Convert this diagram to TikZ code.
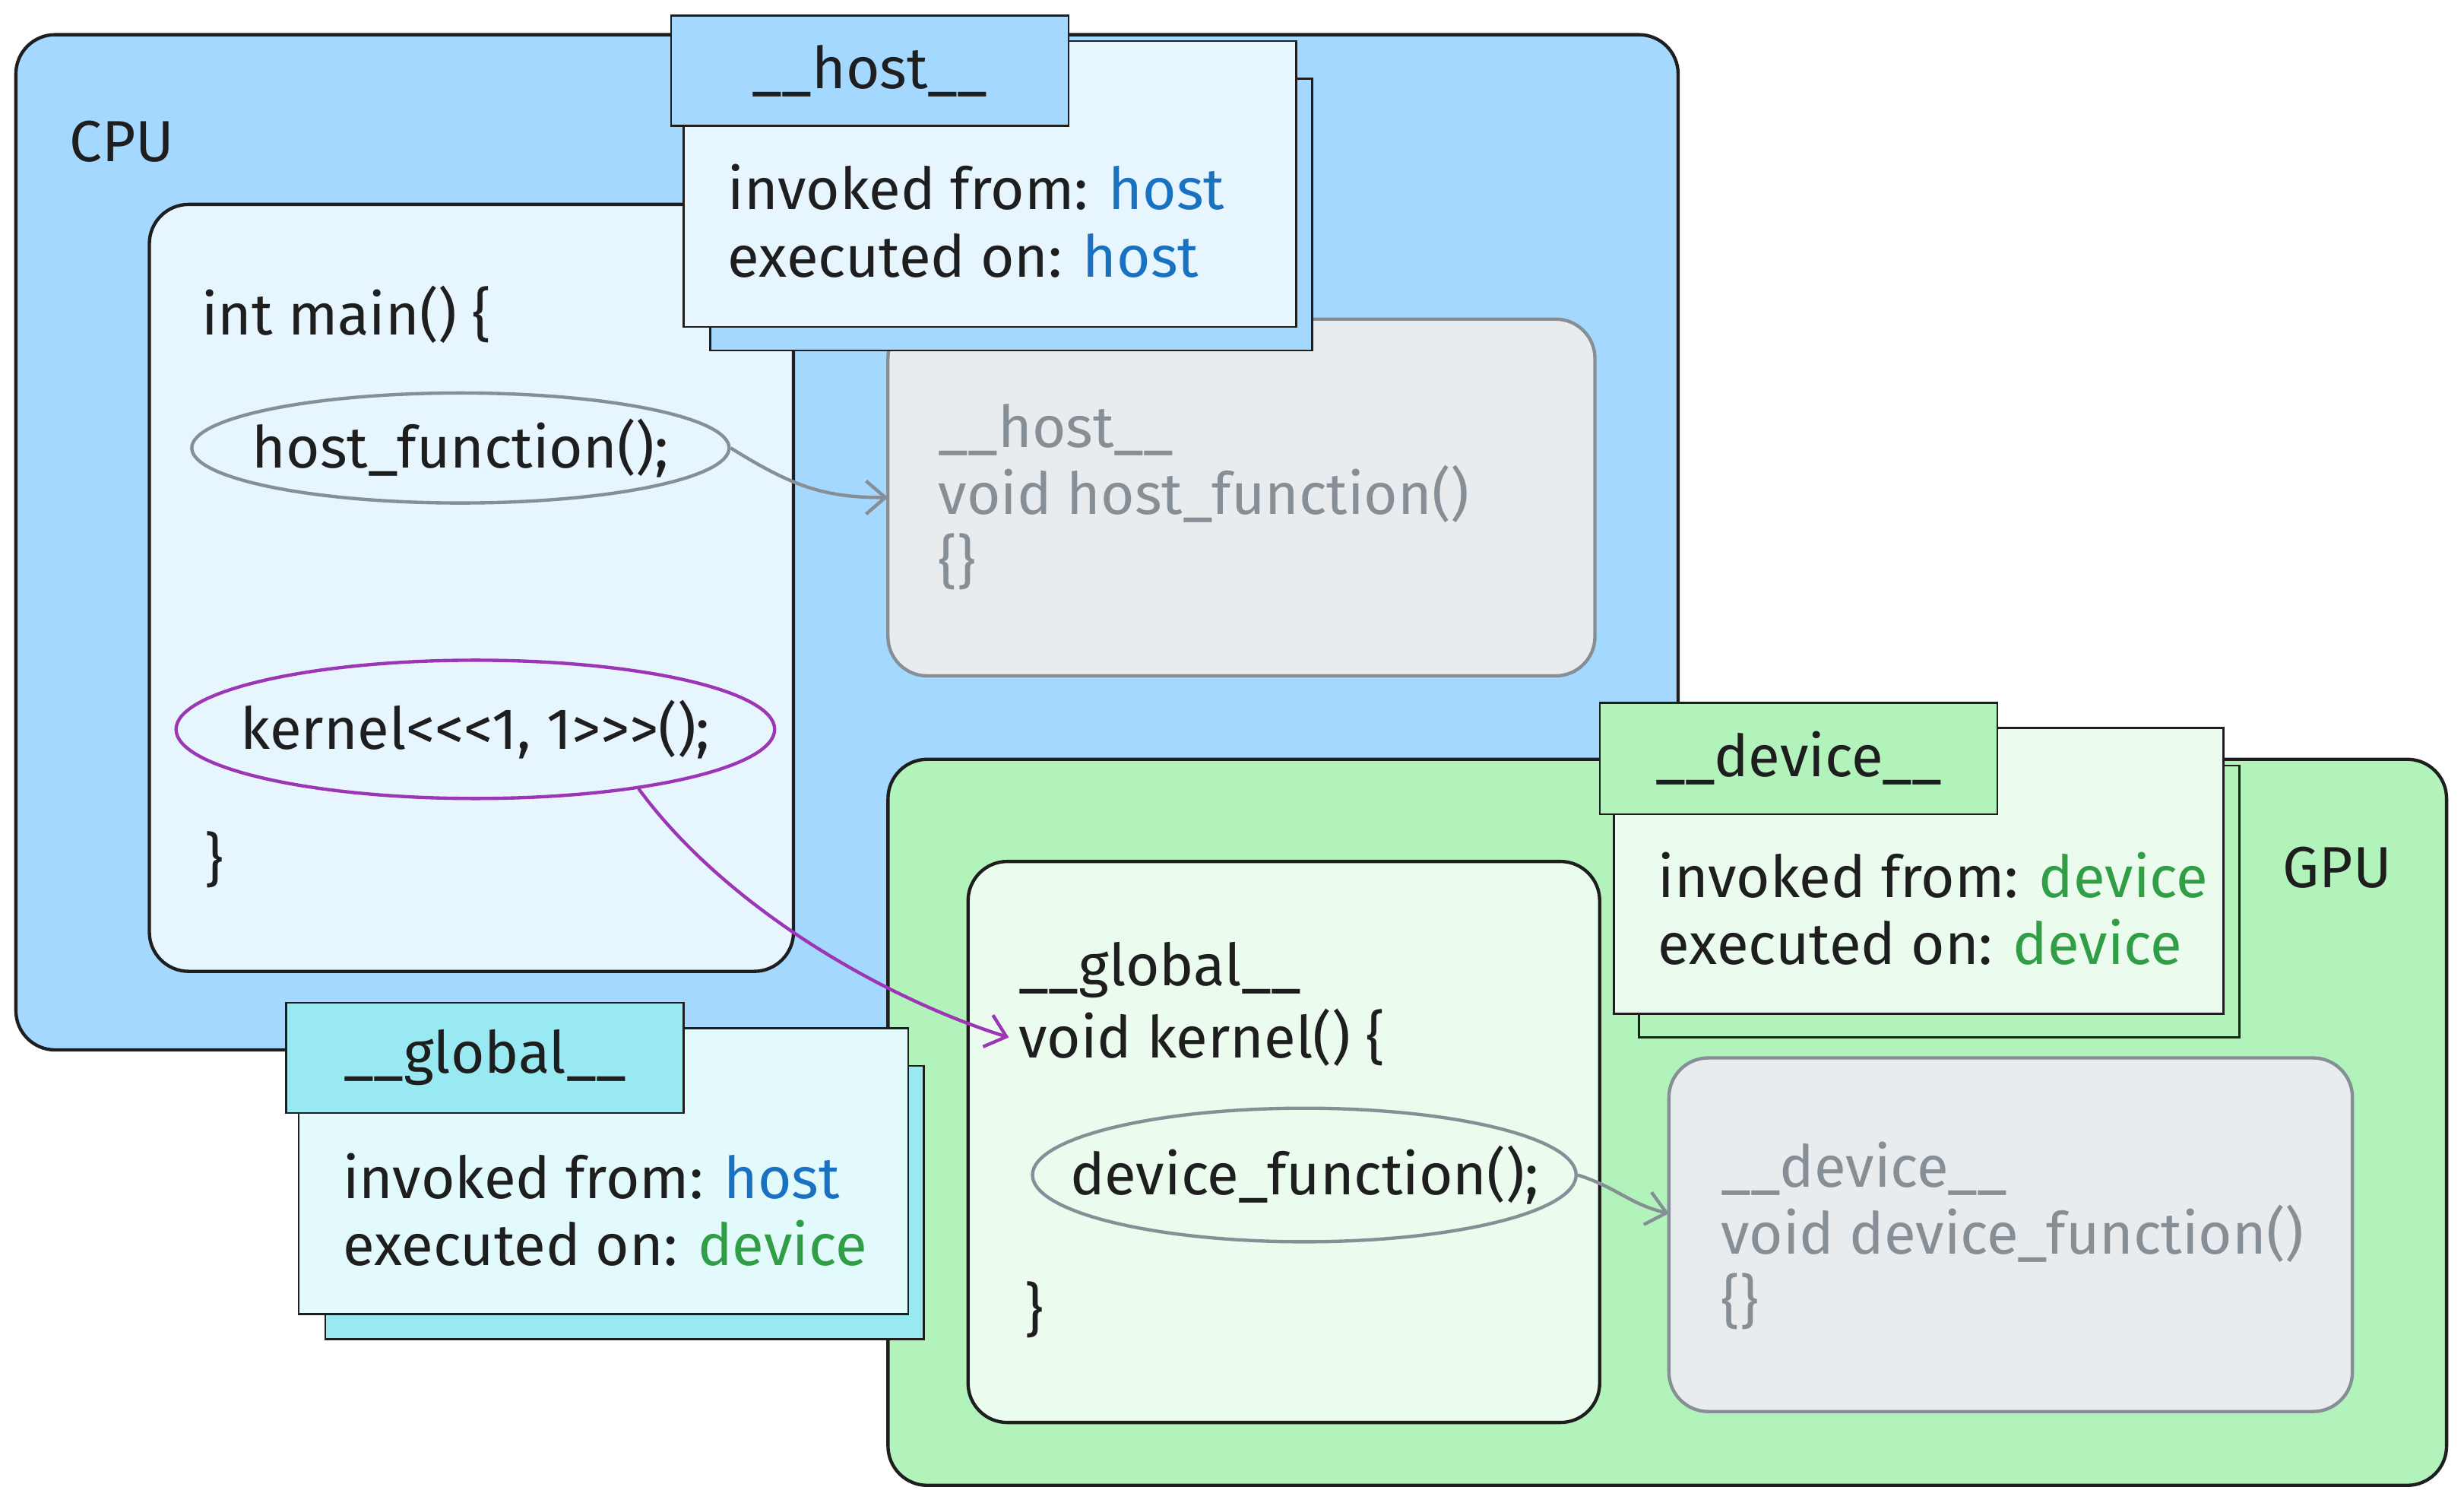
\documentclass[tikz,border=0pt]{standalone}
\usepackage{fontspec}
\setmainfont{Fira Sans}[Ligatures=TeXOff]
\usepackage{xcolor}
\usetikzlibrary{arrows.meta,shapes.geometric}
\definecolor{ink}{HTML}{1E1E1E}
\definecolor{cpublue}{HTML}{A5D8FF}
\definecolor{cpulight}{HTML}{E7F5FF}
\definecolor{gpugreen}{HTML}{B2F2BB}
\definecolor{gpulight}{HTML}{EBFBEE}
\definecolor{globcyan}{HTML}{99E9F2}
\definecolor{globlight}{HTML}{E3FAFC}
\definecolor{codegray}{HTML}{868E96}
\definecolor{codefill}{HTML}{E9ECEF}
\definecolor{hostblue}{HTML}{1971C2}
\definecolor{devgreen}{HTML}{2F9E44}
\definecolor{kernpurple}{HTML}{9C36B5}

\begin{document}
\begin{tikzpicture}[
      x=0.02cm, y=-0.02cm, text=ink,
      font=\fontsize{21}{24.4}\selectfont,
      area/.style={rectangle, draw=ink, line width=1.2pt, rounded corners=0.5cm, inner sep=0pt, outer sep=0pt},
      codebox/.style={area, draw=codegray, fill=codefill},
      card/.style={rectangle, draw=ink, line width=0.7pt, inner sep=0pt, outer sep=0pt},
      call/.style={ellipse, draw, line width=1.2pt, inner sep=0pt},
      code/.style={anchor=west, align=left},
      link/.style={line width=1.2pt, -{Straight Barb[length=7pt,width=12pt]}}]
  \useasboundingbox (0,0) rectangle (1568,956);

  % Areas
  \node[area, fill=cpublue, minimum width=21.16cm, minimum height=12.92cm] (cpu) at (539,345) {};
  \node[anchor=west] (cpulabel) at (38,90) {CPU};
  \node[area, fill=cpulight, minimum width=8.2cm, minimum height=9.76cm] (mainfn) at (300,374) {};
  \node[codebox, minimum width=9cm, minimum height=4.54cm] (hostdef) at (790,316.5) {};
  \node[area, fill=gpugreen, minimum width=19.84cm, minimum height=9.24cm] (gpu) at (1061,714) {};
  \node[anchor=east] (gpulabel) at (1528,552) {GPU};
  \node[area, fill=gpulight, minimum width=8.04cm, minimum height=7.14cm] (kernfn) at (817,726.5) {};
  \node[codebox, minimum width=8.7cm, minimum height=4.5cm] (devdef) at (1279.5,785.5) {};

  % Code
  \node[code] (mainsig) at (122,200) {int main() \{};
  \node[call, draw=codegray, minimum width=6.84cm, minimum height=1.4cm,
        label=center:{host\_function();}] (hostcall) at (293,285) {};
  \node[call, draw=kernpurple, minimum width=7.62cm, minimum height=1.76cm,
        label=center:{kernel<<<1, 1>>>();}] (kerncall) at (302.5,464) {};
  \node[code] (mainend) at (124,547) {\}};
  \node[code, text=codegray] (hostbody) at (591,316) {\_\_host\_\_\\void host\_function()\\\{\}};
  \node[code] (kernqual) at (642,617) {\_\_global\_\_};
  \node[code] (kernsig) at (642,660) {void kernel() \{};
  \node[call, draw=codegray, minimum width=6.92cm, minimum height=1.7cm,
        label=center:{device\_function();}] (devcall) at (830,747.5) {};
  \node[code] (kernend) at (646,833) {\}};
  \node[code, text=codegray] (devbody) at (1089,786) {\_\_device\_\_\\void device\_function()\\\{\}};

  % Cards
  \node[card, fill=cpublue, minimum width=7.66cm, minimum height=3.46cm] (hostshadow) at (643.5,136.5) {};
  \node[card, fill=cpulight, minimum width=7.8cm, minimum height=3.64cm] (hostcard) at (630,117) {};
  \node[card, fill=cpublue, minimum width=5.06cm, minimum height=1.4cm] (hosthead) at (553.5,45) {\_\_host\_\_};
  \node[code] (hostinfo) at (457,140.5) {invoked from: \textcolor{hostblue}{host}\\executed on: \textcolor{hostblue}{host}};

  \node[card, fill=gpugreen, minimum width=7.64cm, minimum height=3.46cm] (devshadow) at (1234,573.5) {};
  \node[card, fill=gpulight, minimum width=7.76cm, minimum height=3.64cm] (devcard) at (1221,554) {};
  \node[card, fill=gpugreen, minimum width=5.06cm, minimum height=1.42cm] (devhead) at (1144.5,482.5) {\_\_device\_\_};
  \node[code] (devinfo) at (1049,578) {invoked from: \textcolor{devgreen}{device}\\executed on: \textcolor{devgreen}{device}};

  \node[card, fill=globcyan, minimum width=7.62cm, minimum height=3.48cm] (globshadow) at (397.5,765) {};
  \node[card, fill=globlight, minimum width=7.76cm, minimum height=3.64cm] (globcard) at (384,745) {};
  \node[card, fill=globcyan, minimum width=5.06cm, minimum height=1.4cm] (globhead) at (308.5,673) {\_\_global\_\_};
  \node[code] (globinfo) at (212,769.5) {invoked from: \textcolor{hostblue}{host}\\executed on: \textcolor{devgreen}{device}};

  % Calls
  \draw[link, draw=codegray] (hostcall.east) .. controls +(40,25) and +(-40,0) .. (hostdef.west);
  \draw[link, draw=kernpurple] (kerncall.-20) .. controls +(55,75) and +(-80,-25) .. (kernsig.west);
  \draw[link, draw=codegray] (devcall.east) .. controls +(25,8) and +(-25,-6) .. ([yshift=0.27cm]devdef.west);

\end{tikzpicture}
\end{document}
